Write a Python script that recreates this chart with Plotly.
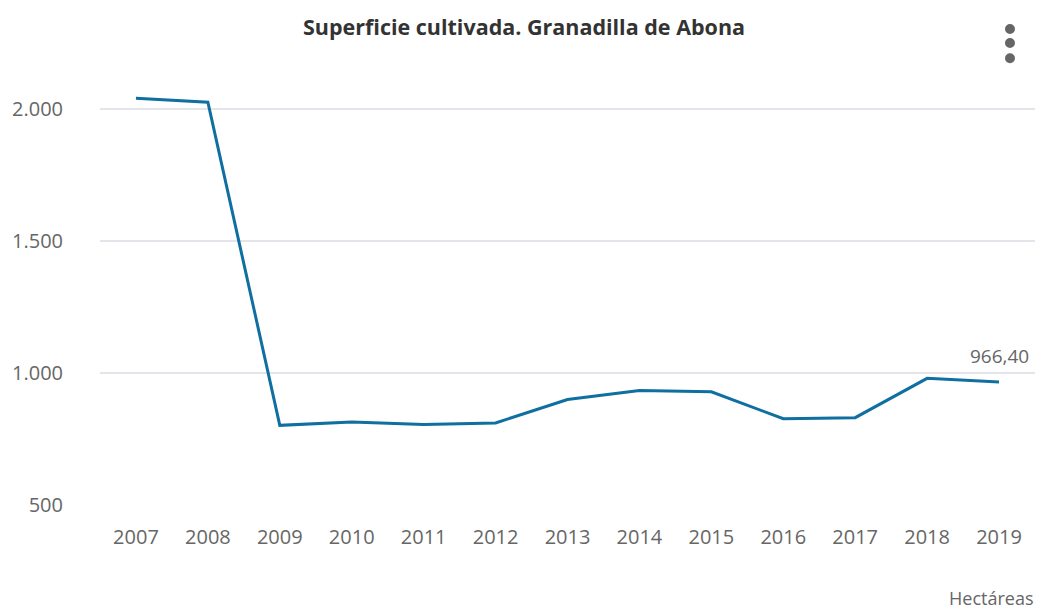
import plotly.graph_objects as go

years = ["2007", "2008", "2009", "2010", "2011", "2012", "2013",
         "2014", "2015", "2016", "2017", "2018", "2019"]
hectareas = [2042, 2027, 802, 815, 805, 811, 900, 934, 929, 827, 831, 980, 966.40]
y_ticks = [500, 1000, 1500, 2000]

title_text = "Superficie cultivada. Granadilla de Abona"
unit_text = "Hectáreas"

FONT = "Open Sans"
LINE_COLOR = "#0e6fa0"
GREY = "#666666"

fig = go.Figure()
fig.add_trace(go.Scatter(
    x=years, y=hectareas, mode="lines",
    line=dict(color=LINE_COLOR, width=3),
    hoverinfo="x+y", showlegend=False,
))

last_label = f"{hectareas[-1]:,.2f}".replace(",", "X").replace(".", ",").replace("X", ".")
fig.add_annotation(
    x=len(years) - 1, y=hectareas[-1], text=last_label, showarrow=False,
    yshift=26, font=dict(family=FONT, size=19, color=GREY),
)
fig.add_annotation(
    xref="paper", yref="paper", x=1.0, y=-0.219, xanchor="right", yanchor="middle",
    text=unit_text, showarrow=False,
    font=dict(family=FONT, size=18, color=GREY),
)

# menu icon (three dots)
for yy in (1.12, 1.087, 1.051):
    fig.add_shape(type="circle", xref="paper", yref="paper",
                  x0=0.9679, x1=0.9786, y0=yy - 0.0118, y1=yy + 0.0118,
                  fillcolor="#666666", line=dict(width=0))

fig.update_layout(
    width=1038, height=610,
    paper_bgcolor="white", plot_bgcolor="white",
    margin=dict(l=100, r=3, t=80, b=105),
    separators=",.",
    title=dict(text=f"<b>{title_text}</b>", x=524 / 1038, xref="container",
               xanchor="center", y=1 - 27 / 610, yanchor="middle",
               font=dict(family=FONT, size=21.5, color="#333333")),
    font=dict(family=FONT, color=GREY),
)
fig.update_xaxes(
    type="category", range=[-0.5, len(years) - 0.5],
    showgrid=False, showline=False, zeroline=False,
    ticks="outside", ticklen=14, tickcolor="rgba(0,0,0,0)",
    tickfont=dict(family=FONT, size=20, color=GREY),
)
fig.update_yaxes(
    range=[500, 2111], tickvals=y_ticks, tickformat=",.0f",
    showgrid=True, gridcolor="#e3e5ea", gridwidth=1.5,
    zeroline=False, showline=False,
    ticks="outside", ticklen=32, tickcolor="rgba(0,0,0,0)",
    tickfont=dict(family=FONT, size=20, color=GREY),
)

fig.write_html("out.html", config={"displayModeBar": False},
               post_script="document.body.style.margin='0';")
